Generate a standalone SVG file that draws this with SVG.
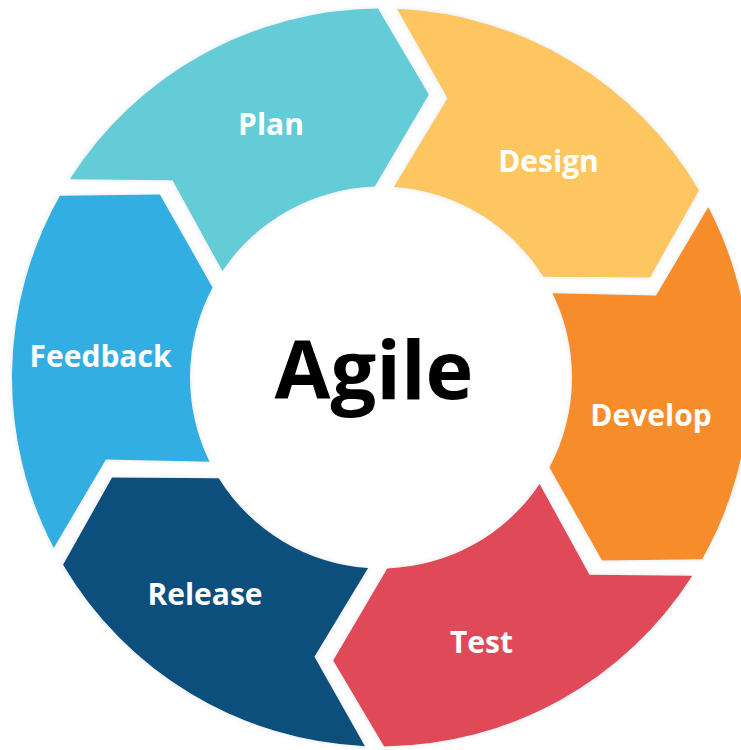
<svg xmlns="http://www.w3.org/2000/svg" width="741" height="750" viewBox="0 0 741 750">
<style>
.lbl{font-family:"Open Sans","Noto Sans","Liberation Sans",sans-serif;font-weight:700;font-size:30px;fill:#ffffff;text-anchor:middle}
.ctr{font-family:"Open Sans","Noto Sans","Liberation Sans",sans-serif;font-weight:700;font-size:81px;fill:#000000;text-anchor:middle}
.seg{filter:url(#glow)}
</style>
<defs>
<filter id="glow" x="-10%" y="-10%" width="120%" height="120%">
<feDropShadow dx="0" dy="0" stdDeviation="2.5" flood-color="#9fb6c8" flood-opacity="0.35"/>
</filter>
</defs>
<rect width="741" height="750" fill="#ffffff"/>
<g id="plan">
<path class="seg" fill="#63CCD7" d="M69.73,179.32 A369,369 0 0 1 377.89,8.51 L428.85,94.52 L374.78,186.6 A191,191 0 0 0 222.4,271.07 L172.5,180.28 Z"/>
<text class="lbl" x="271" y="135">Plan</text>
</g>
<g id="design">
<path class="seg" fill="#FDC660" d="M396.99,8.85 A369,369 0 0 1 699,190.31 L650,277.45 L543.22,276.68 A191,191 0 0 0 393.88,186.93 L447.52,98.31 Z"/>
<text class="lbl" x="548.5" y="172">Design</text>
</g>
<g id="develop">
<path class="seg" fill="#F68D2B" d="M708.26,207.02 A369,369 0 0 1 702.11,559.3 L602.11,560.47 L549.43,467.56 A191,191 0 0 0 552.47,293.37 L656.04,295.52 Z"/>
<text class="lbl" x="651" y="426">Develop</text>
</g>
<g id="test">
<path class="seg" fill="#E04958" d="M692.27,575.68 A369,369 0 0 1 384.11,746.49 L333.15,660.48 L387.22,568.4 A191,191 0 0 0 539.6,483.93 L589.5,574.72 Z"/>
<text class="lbl" x="481.5" y="653">Test</text>
</g>
<g id="release">
<path class="seg" fill="#0A507B" d="M365.01,746.15 A369,369 0 0 1 63,564.69 L112,477.55 L218.78,478.32 A191,191 0 0 0 368.12,568.07 L314.48,656.69 Z"/>
<text class="lbl" x="205" y="605">Release</text>
</g>
<g id="feedback">
<path class="seg" fill="#33AEE2" d="M53.74,547.98 A369,369 0 0 1 59.89,195.7 L159.89,194.53 L212.57,287.44 A191,191 0 0 0 209.53,461.63 L105.96,459.48 Z"/>
<text class="lbl" x="100.5" y="367">Feedback</text>
</g>
<g id="agile">
<text class="ctr" x="374" y="399">Agile</text>
</g>
</svg>
